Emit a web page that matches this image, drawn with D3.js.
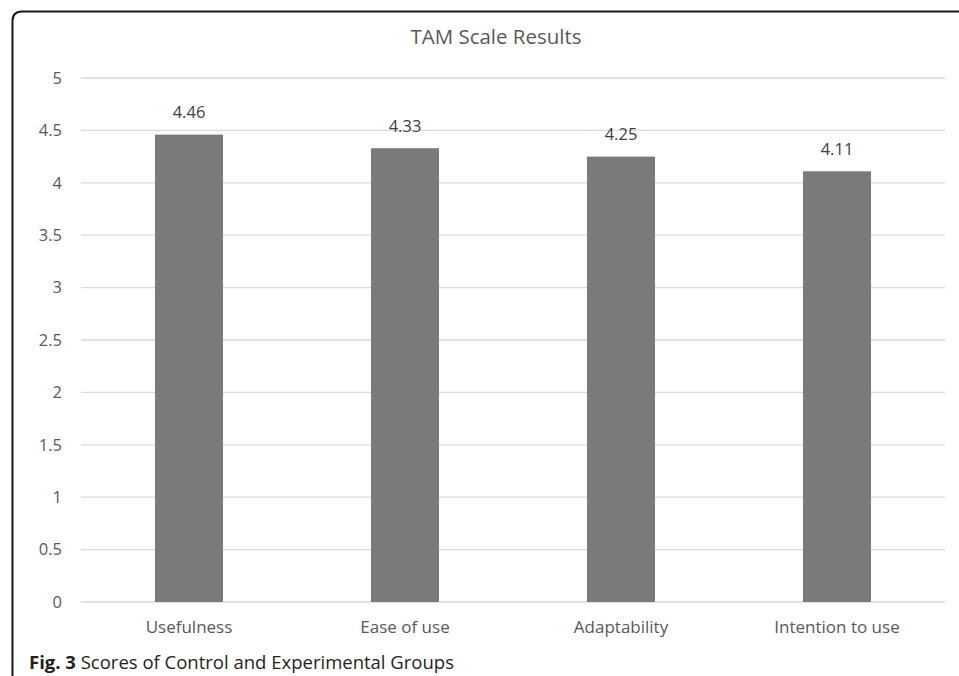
<!DOCTYPE html>
<html>
<head>
<meta charset="utf-8">
<script src="https://cdn.jsdelivr.net/npm/d3@7"></script>
<style>
  html, body { margin: 0; padding: 0; background: #fff; }
  svg { display: block; }
</style>
</head>
<body>
<svg id="chart" width="959" height="676"></svg>
<script>
// TAM scale results per dimension
const categories = ["Usefulness", "Ease of use", "Adaptability", "Intention to use"];
const scores = [4.46, 4.33, 4.25, 4.11];
const yTicks = [0, 0.5, 1, 1.5, 2, 2.5, 3, 3.5, 4, 4.5, 5];
const yTickLabels = ["0", "0.5", "1", "1.5", "2", "2.5", "3", "3.5", "4", "4.5", "5"];

const svg = d3.select("#chart");
const font = "'Open Sans', 'Noto Sans', sans-serif";
const textGrey = "#595959";

// Rounded frame around the figure (top and left edges)
svg.append("path")
  .attr("d", "M12.5,676 L12.5,21 Q12.5,11.5 22,11.5 L959,11.5")
  .attr("fill", "none")
  .attr("stroke", "#1a1a1a")
  .attr("stroke-width", 2);

const plot = { left: 81, right: 945, top: 78, bottom: 602 };

const x = d3.scaleBand()
  .domain(categories)
  .range([plot.left, plot.right])
  .paddingInner(0.685)
  .paddingOuter(0.3425);

const y = d3.scaleLinear()
  .domain([0, 5])
  .range([plot.bottom, plot.top]);

// Horizontal gridlines
svg.append("g")
  .selectAll("line")
  .data(yTicks)
  .join("line")
  .attr("x1", plot.left)
  .attr("x2", plot.right)
  .attr("y1", d => y(d))
  .attr("y2", d => y(d))
  .attr("stroke", "#d9d9d9")
  .attr("stroke-width", 1.3);

// Y axis tick labels
const yAxis = d3.axisLeft(y)
  .tickValues(yTicks)
  .tickFormat((d, i) => yTickLabels[i])
  .tickSize(0)
  .tickPadding(0);
const yg = svg.append("g")
  .attr("transform", `translate(${plot.left - 19},0)`)
  .call(yAxis);
yg.select(".domain").remove();
yg.selectAll("text")
  .attr("font-family", font)
  .attr("font-size", 16.5)
  .attr("fill", textGrey);

// Bars
svg.append("g")
  .selectAll("rect")
  .data(scores)
  .join("rect")
  .attr("x", (d, i) => x(categories[i]))
  .attr("width", x.bandwidth())
  .attr("y", d => y(d))
  .attr("height", d => y(0) - y(d))
  .attr("fill", "#7a7a7a");

// Value labels above bars
svg.append("g")
  .selectAll("text")
  .data(scores)
  .join("text")
  .attr("x", (d, i) => x(categories[i]) + x.bandwidth() / 2)
  .attr("y", d => y(d) - 16.5)
  .attr("text-anchor", "middle")
  .attr("font-family", font)
  .attr("font-size", 16.5)
  .attr("fill", "#404040")
  .text(d => d.toFixed(2));

// X axis category labels
const xAxis = d3.axisBottom(x).tickSize(0).tickPadding(0);
const xg = svg.append("g")
  .attr("transform", `translate(0,${plot.bottom})`)
  .call(xAxis);
xg.select(".domain").remove();
xg.selectAll("text")
  .attr("dy", null)
  .attr("y", 31)
  .attr("font-family", font)
  .attr("font-size", 17)
  .attr("fill", textGrey);

// Chart title
svg.append("text")
  .attr("x", 496)
  .attr("y", 44)
  .attr("text-anchor", "middle")
  .attr("font-family", font)
  .attr("font-size", 20.5)
  .attr("fill", textGrey)
  .text("TAM Scale Results");

// Figure caption
const cap = svg.append("text")
  .attr("x", 29)
  .attr("y", 669)
  .attr("font-family", font)
  .attr("font-size", 18.5)
  .attr("fill", "#231f20");
cap.append("tspan").attr("font-weight", "bold").text("Fig. 3");
cap.append("tspan").text(" Scores of Control and Experimental Groups");
</script>
</body>
</html>
